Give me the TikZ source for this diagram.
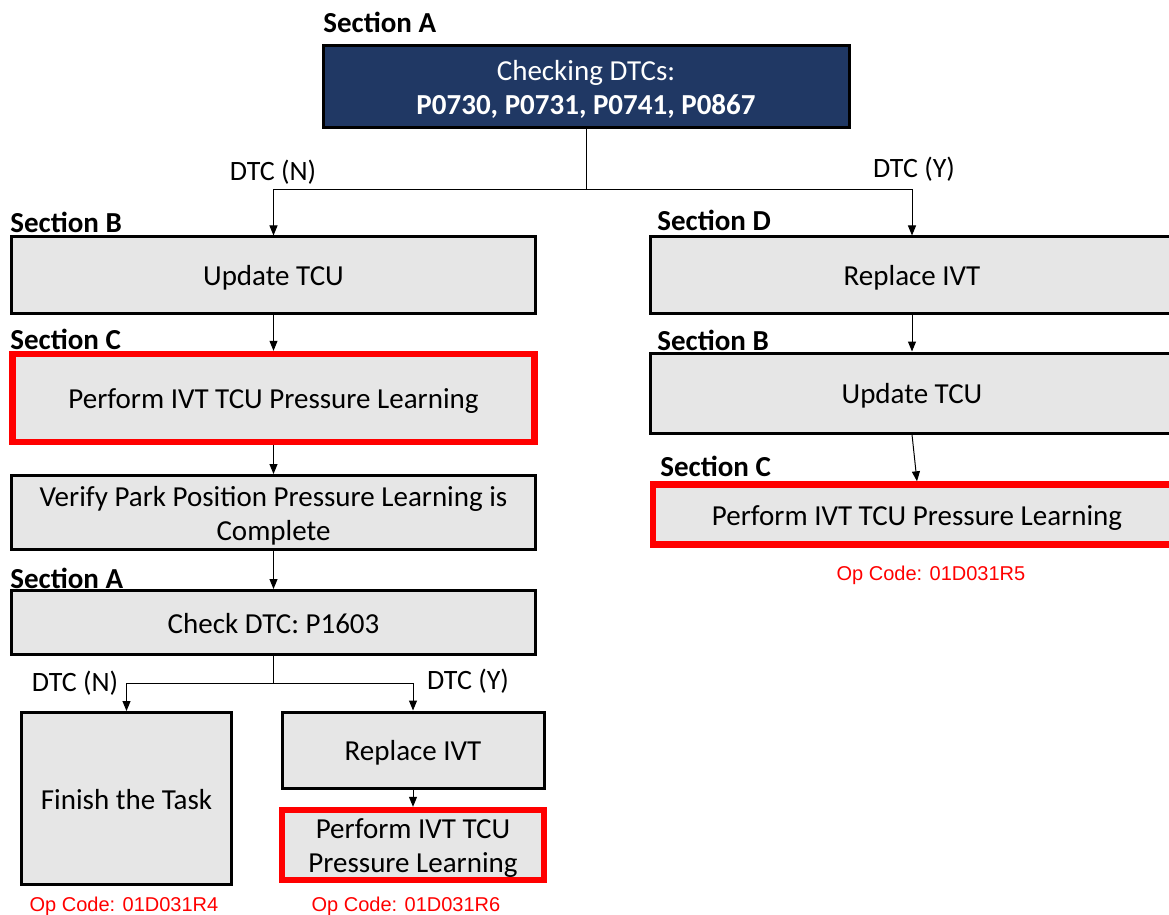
\documentclass[tikz,border=0pt]{standalone}
\usepackage{fontspec}
\setmainfont{Carlito}
\newfontfamily\opfont{Liberation Sans}
\usetikzlibrary{arrows.meta}

\definecolor{navy}{RGB}{32,56,100}
\definecolor{boxgray}{RGB}{230,230,230}
\definecolor{opred}{RGB}{255,0,0}

\tikzset{
  stepbox/.style={draw=black, line width=1.5pt, fill=boxgray, align=center,
    inner sep=0pt, text height=13.5pt, text depth=3pt,
    font=\fontsize{14.5}{17}\selectfont},
  twoline/.style={text height=30.5pt, text depth=3pt},
  redbox/.style={stepbox, draw=opred, line width=3.2pt},
  sectlbl/.style={anchor=west, inner sep=0pt, font=\fontsize{14.5}{17}\selectfont\bfseries},
  dtclbl/.style={inner sep=0pt, font=\fontsize{14}{17}\selectfont},
  opcode/.style={inner sep=0pt, text=opred, font=\opfont\fontsize{10}{12}\selectfont},
  arr/.style={-{Triangle[length=5pt,width=4pt]}, line width=0.5pt}
}

\begin{document}
\begin{tikzpicture}[x=0.5pt, y=-0.5pt]
\useasboundingbox (0,0) rectangle (1169,915);

% Top check
\node[sectlbl] (secA1) at (323,22) {Section A};
\node[stepbox, twoline, fill=navy, text=white, minimum width=263pt, minimum height=41pt] (top) at (586,87)
  {Checking DTCs:\\ \textbf{P0730, P0731, P0741, P0867}};

% Left branch
\node[sectlbl] (secB1) at (10,222) {Section B};
\node[stepbox, minimum width=262pt, minimum height=38pt] (upd1) at (273.5,275) {Update TCU};

\node[sectlbl] (secC1) at (10,339) {Section C};
\node[redbox, minimum width=261pt, minimum height=44pt] (perf1) at (273.5,398) {Perform IVT TCU Pressure Learning};

\node[stepbox, twoline, minimum width=262pt, minimum height=37pt] (verify) at (273.5,512.5)
  {Verify Park Position Pressure Learning is\\ Complete};

\node[sectlbl] (secA2) at (10,578) {Section A};
\node[stepbox, minimum width=262pt, minimum height=32pt] (check) at (273.5,622.5) {Check DTC: P1603};

\node[stepbox, minimum width=105pt, minimum height=86pt] (finish) at (126.5,798.5) {Finish the Task};
\node[stepbox, minimum width=131pt, minimum height=38pt] (repl1) at (413,750) {Replace IVT};
\node[redbox, twoline, minimum width=131pt, minimum height=35pt] (perf3) at (413,845)
  {Perform IVT TCU\\ Pressure Learning};

\node[opcode] (op4) at (124,906) {Op Code: 01D031R4};
\node[opcode] (op6) at (406,906) {Op Code: 01D031R6};

% Right branch
\node[sectlbl] (secD) at (657,220) {Section D};
\node[stepbox, minimum width=262pt, minimum height=38pt] (repl2) at (912,275) {Replace IVT};

\node[sectlbl] (secB2) at (657,340) {Section B};
\node[stepbox, minimum width=262pt, minimum height=40pt] (upd2) at (912,393) {Update TCU};

\node[sectlbl] (secC2) at (660,466) {Section C};
\node[redbox, minimum width=264pt, minimum height=30pt] (perf2) at (917,514.5) {Perform IVT TCU Pressure Learning};

\node[opcode] (op5) at (931,575) {Op Code: 01D031R5};

% Branch labels
\node[dtclbl] (dtcN1) at (273,172) {DTC (N)};
\node[dtclbl] (dtcY1) at (914,169) {DTC (Y)};
\node[dtclbl] (dtcN2) at (75,683) {DTC (N)};
\node[dtclbl] (dtcY2) at (468,681) {DTC (Y)};

% Connectors
\coordinate (split1) at (586,190);
\coordinate (split2) at (273.5,683);
\draw[line width=0.5pt] (top.south) -- (split1);
\draw[arr] (split1) -| (upd1.north);
\draw[arr] (split1) -| (repl2.north);
\draw[arr] (upd1) -- (perf1);
\draw[arr] (perf1) -- (verify);
\draw[arr] (verify) -- (check);
\draw[line width=0.5pt] (check.south) -- (split2);
\draw[arr] (split2) -| (finish.north);
\draw[arr] (split2) -| (repl1.north);
\draw[arr] (repl1) -- (perf3);
\draw[arr] (repl2) -- (upd2);
\draw[arr] (upd2.south) -- (perf2.north);

\end{tikzpicture}
\end{document}
